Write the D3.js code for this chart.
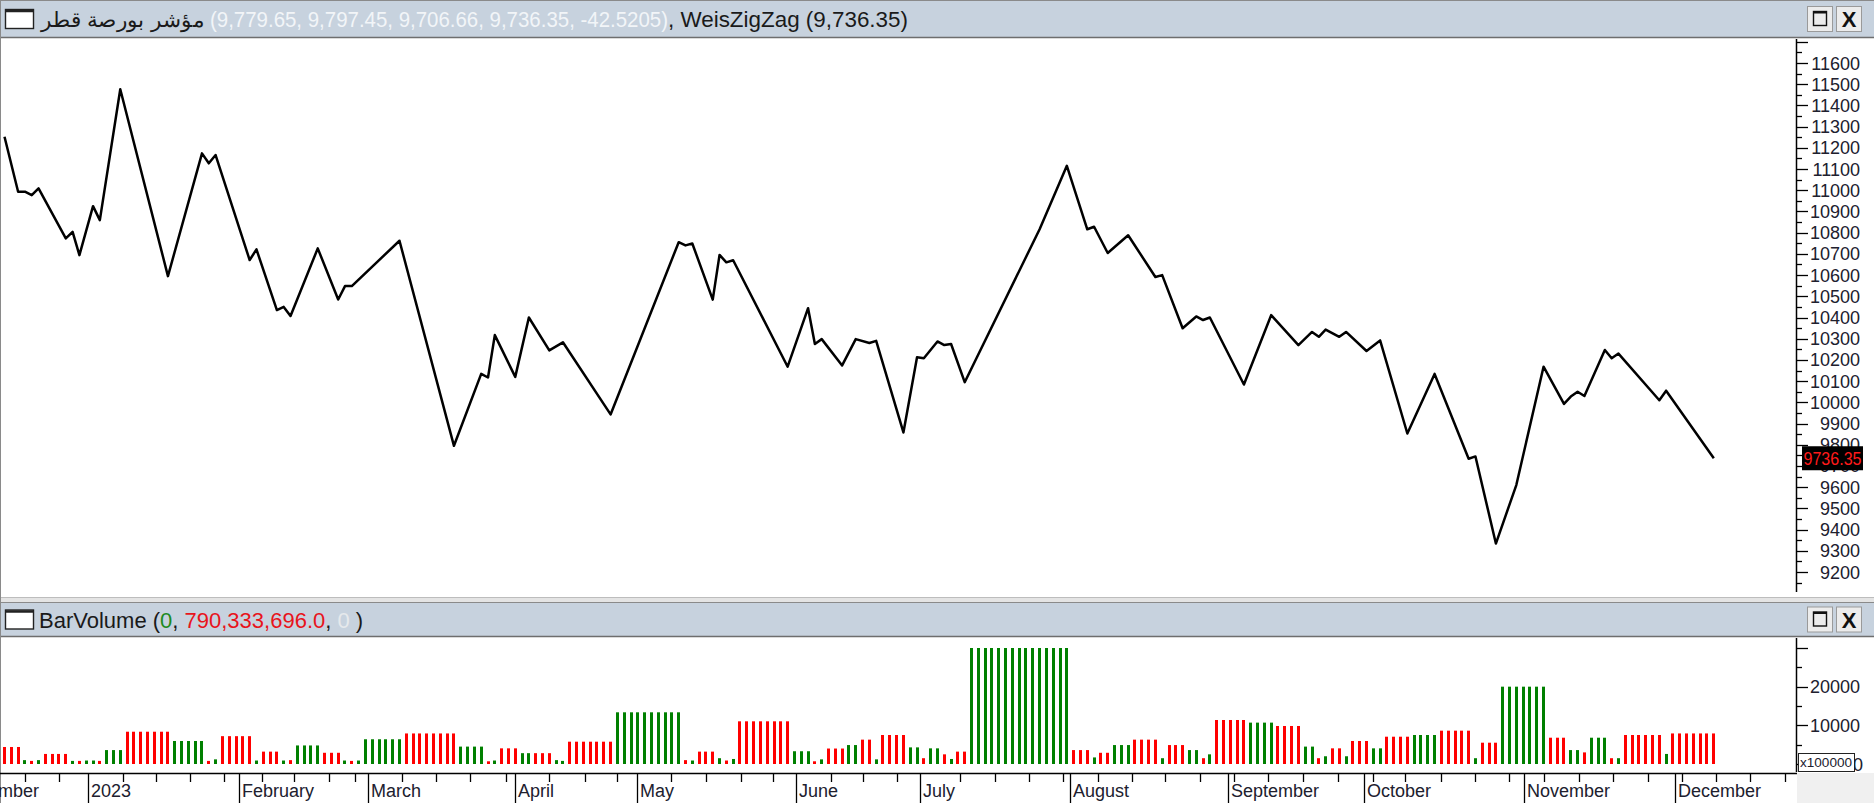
<!DOCTYPE html>
<html><head><meta charset="utf-8">
<script src="https://cdn.jsdelivr.net/npm/d3@7"></script>
<style>
html,body{margin:0;padding:0;background:#fff;overflow:hidden}
svg{display:block}
text{font-family:"Liberation Sans",Arial,sans-serif}
</style></head>
<body>
<svg id="chart" width="1874" height="803"></svg>
<script>
// ---------------- DATA ----------------
// WeisZigZag vertices: bar index and value
const priceIdx = [0,2,3,4,5,9,10,11,13,14,17,24,29,30,31,36,37,40,41,42,46,49,50,51,58,66,70,71,72,75,77,80,82,89,99,100,101,104,105,106,107,115,118,119,120,123,125,127,128,132,134,135,137,138,139,141,152,156,159,160,162,165,169,170,173,175,176,177,182,186,190,192,193,194,196,197,200,202,206,210,215,216,219,222,226,229,230,231,232,235,236,237,243,244,251];
const priceVal = [11252,10993,10993,10977,11009,10773,10804,10694,10925,10859,11476,10595,11174,11127,11166,10671,10721,10435,10450,10407,10726,10485,10548,10548,10762,9795,10134,10117,10317,10120,10400,10245,10283,9943,10755,10740,10749,10484,10695,10660,10670,10168,10444,10275,10298,10174,10298,10280,10290,9858,10213,10208,10287,10270,10275,10095,10816,11115,10816,10828,10704,10788,10591,10600,10349,10405,10388,10400,10084,10411,10270,10332,10309,10343,10309,10332,10242,10292,9853,10134,9734,9745,9334,9610,10168,9993,10027,10050,10030,10247,10208,10230,10010,10055,9736.35];

// BarVolume per bar (x100000)
const volume = [
4400,4400,4400,1000,800,1000,2600,2600,2600,2600,
800,800,900,900,800,3600,3600,3600,8350,8350,
8350,8350,8350,8350,8350,5950,5950,5950,5950,5950,
800,1200,7200,7200,7200,7200,7200,900,3200,3200,
3200,900,1000,4800,4800,4800,4800,2900,2900,2900,
900,800,900,6400,6400,6400,6400,6400,6400,7900,
7900,7900,7900,7900,7900,7900,7900,4500,4500,4500,
4500,700,900,4050,4050,4050,2800,2800,2800,2800,
2800,1000,800,5770,5770,5770,5770,5770,5770,5770,
13370,13370,13370,13370,13370,13370,13370,13370,13370,13370,
1000,900,3200,3200,3200,1500,900,1300,11040,11040,
11040,11040,11040,11040,11040,11040,3300,3300,3300,700,
1200,4000,4000,4000,4900,4900,6300,6300,1200,7500,
7500,7500,7500,4300,4300,1500,4050,4050,2500,1300,
3200,3200,30000,30000,30000,30000,30000,30000,30000,30000,
30000,30000,30000,30000,30000,30000,30000,3600,3600,3600,
1700,2900,2900,4900,4900,4900,6300,6300,6300,6300,
1500,4900,4900,4900,3600,3600,1500,2500,11380,11380,
11380,11380,11380,10700,10700,10700,10700,9830,9830,9830,
9830,4500,4500,1500,2000,4050,4050,2000,5950,5950,
5950,4050,4050,7060,7060,7060,7060,7500,7500,7500,
7500,8620,8620,8620,8620,8620,1500,5510,5510,5510,
20000,20000,20000,20000,20000,20000,20000,6800,6800,6800,
3600,3600,3000,6800,6800,6800,1500,1500,7500,7500,
7500,7500,7500,7500,2600,7903,7903,7903,7903,7903,
7903,7903];
// wave direction per bar: "g" = up wave, "r" = down wave
const volColor = [
"r","r","r","g","r","g","r","r","r","r",
"g","r","g","g","r","g","g","g","r","r",
"r","r","r","r","r","g","g","g","g","g",
"r","g","r","r","r","r","r","g","r","r",
"r","g","r","g","g","g","g","r","r","r",
"g","r","g","g","g","g","g","g","g","r",
"r","r","r","r","r","r","r","g","g","g",
"g","r","g","r","r","r","g","g","r","r",
"r","g","g","r","r","r","r","r","r","r",
"g","g","g","g","g","g","g","g","g","g",
"r","g","r","r","r","g","r","g","r","r",
"r","r","r","r","r","r","g","g","g","r",
"g","r","r","r","g","g","r","r","g","r",
"r","r","r","g","g","r","g","g","r","g",
"r","r","g","g","g","g","g","g","g","g",
"g","g","g","g","g","g","g","r","r","r",
"g","r","r","g","g","g","r","r","r","r",
"g","r","r","r","g","g","r","g","r","r",
"r","r","r","g","g","g","g","r","r","r",
"r","g","g","r","g","r","r","g","r","r",
"r","g","g","r","r","r","r","g","g","g",
"g","r","r","r","r","r","g","r","r","r",
"g","g","g","g","g","g","g","r","r","r",
"g","g","r","g","g","g","r","g","r","r",
"r","r","r","r","g","r","r","r","r","r",
"r","r"];

const monthLabels = ["December","2023","February","March","April","May","June","July","August","September","October","November","December"];
const monthIdx = [-7.6,12.3,34.4,53.4,74.9,92.9,116.2,134.4,156.4,179.7,199.7,223.2,245.3];
const weekIdx = [3.0,8.0,17.4,22.2,27.2,32.2,37.8,42.5,47.6,51.5,58.3,63.4,68.4,73.6,79.9,85.2,90.0,97.8,103.0,108.1,112.9,121.3,126.1,131.0,140.3,145.5,150.5,155.5,160.5,165.5,170.4,175.5,180.5,185.6,190.7,195.8,200.9,205.7,210.9,215.9,220.9,226.1,231.2,236.2,241.3,246.4,251.3,256.3,261.4];

const priceTicks = [9200,9300,9400,9500,9600,9700,9800,9900,10000,10100,10200,10300,10400,10500,10600,10700,10800,10900,11000,11100,11200,11300,11400,11500,11600];
const volTicks = [10000,20000];
const lastPrice = 9736.35;

const titleArabic = "مؤشر بورصة قطر";
const titleValues = "(9,779.65, 9,797.45, 9,706.66, 9,736.35, -42.5205)";
const titleIndicator = ", WeisZigZag (9,736.35)";

// ---------------- LAYOUT ----------------
const W = 1874, H = 803;
const axisX = 1796;
const P = {top: 38, bottom: 597};     // price panel
const V = {top: 637, bottom: 773};    // volume panel
const svg = d3.select("#chart");

const x = d3.scaleLinear().domain([-0.661, 263.07]).range([0, axisX]);
const yP = d3.scaleLinear().domain([9200, 11600]).range([572, 63]);
const yV = d3.scaleLinear().domain([0, 30000]).range([764, 648]);

const RED = "#ff0000", GREEN = "#008000";
const BAR = "#c7d2de";

svg.append("rect").attr("width", W).attr("height", H).attr("fill", "#ffffff");

// clip paths
const defs = svg.append("defs");
defs.append("clipPath").attr("id","clipP").append("rect").attr("x",0).attr("y",P.top).attr("width",axisX).attr("height",P.bottom-P.top);
defs.append("clipPath").attr("id","clipV").append("rect").attr("x",0).attr("y",V.top).attr("width",axisX).attr("height",V.bottom-V.top);
defs.append("clipPath").attr("id","clipX").append("rect").attr("x",0).attr("y",V.bottom).attr("width",axisX).attr("height",H-V.bottom);

// --------- title bars ----------
function titleBar(y0, y1, textFn){
  const g = svg.append("g");
  g.append("rect").attr("x",0).attr("y",y0).attr("width",W).attr("height",y1-y0).attr("fill",BAR);
  g.append("line").attr("x1",0).attr("x2",W).attr("y1",y0+0.5).attr("y2",y0+0.5).attr("stroke","#8a8a8a");
  g.append("line").attr("x1",0).attr("x2",W).attr("y1",y1-0.5).attr("y2",y1-0.5).attr("stroke","#6e6e6e").attr("stroke-width",1.5);
  const cy = (y0+y1)/2;
  g.append("rect").attr("x",5.5).attr("y",cy-9.5).attr("width",28).attr("height",19).attr("fill","#fff").attr("stroke","#222").attr("stroke-width",1.4);
  g.append("line").attr("x1",5.5).attr("x2",33.5).attr("y1",cy-8).attr("y2",cy-8).attr("stroke","#222").attr("stroke-width",2.5);
  [[1807,"box"],[1836,"x"]].forEach(([bx,kind])=>{
    g.append("rect").attr("x",bx+0.5).attr("y",cy-12.5).attr("width",25).attr("height",25).attr("fill","#ececec").attr("stroke","#9a9a9a");
    if(kind==="box"){
      g.append("rect").attr("x",bx+6.5).attr("y",cy-7.5).attr("width",13).attr("height",14).attr("fill","none").attr("stroke","#111").attr("stroke-width",1.4);
      g.append("line").attr("x1",bx+6.5).attr("x2",bx+19.5).attr("y1",cy-6.5).attr("y2",cy-6.5).attr("stroke","#111").attr("stroke-width",2);
    } else {
      g.append("text").attr("x",bx+13).attr("y",cy+8).attr("text-anchor","middle").attr("font-size",22).attr("font-weight","bold").attr("fill","#111").text("X");
    }
  });
  textFn(g, cy);
}

titleBar(0, 38, (g, cy)=>{
  g.append("text").attr("x",204).attr("y",cy+8).attr("font-size",21).attr("fill","#1a1a1a")
    .attr("font-family","'DejaVu Sans',sans-serif").attr("text-anchor","end")
    .attr("textLength",163).attr("lengthAdjust","spacingAndGlyphs").text(titleArabic);
  g.append("text").attr("x",210).attr("y",cy+8).attr("font-size",22).attr("fill","#f2f5f8")
    .attr("textLength",458).attr("lengthAdjust","spacingAndGlyphs").text(titleValues);
  g.append("text").attr("x",668).attr("y",cy+8).attr("font-size",22).attr("fill","#1a1a1a")
    .attr("textLength",240).attr("lengthAdjust","spacingAndGlyphs").text(titleIndicator);
});

// separator between panels
svg.append("rect").attr("x",0).attr("y",P.bottom).attr("width",W).attr("height",5).attr("fill","#e4e4e4");
svg.append("line").attr("x1",0).attr("x2",W).attr("y1",P.bottom+0.5).attr("y2",P.bottom+0.5).attr("stroke","#bdbdbd");

titleBar(602, 637, (g, cy)=>{
  const t = g.append("text").attr("x",39).attr("y",cy+8).attr("font-size",22).attr("fill","#1a1a1a");
  t.append("tspan").text("BarVolume (");
  t.append("tspan").attr("fill","#1e8a1e").text("0");
  t.append("tspan").text(", ");
  t.append("tspan").attr("fill","#e8141c").text("790,333,696.0");
  t.append("tspan").text(", ");
  t.append("tspan").attr("fill","#e6e9ec").text("0");
  t.append("tspan").text(" )");
});

// left frame line
svg.append("line").attr("x1",0.5).attr("x2",0.5).attr("y1",0).attr("y2",H).attr("stroke","#8a8a8a");

// ---------------- PRICE PANEL ----------------
const priceData = priceIdx.map((d,k)=>({i:d, v:priceVal[k]}));
svg.append("path").datum(priceData)
  .attr("clip-path","url(#clipP)")
  .attr("fill","none").attr("stroke","#000").attr("stroke-width",2.5).attr("stroke-linejoin","round")
  .attr("d", d3.line().x(d=>x(d.i)).y(d=>yP(d.v)));

const pAxis = svg.append("g");
pAxis.append("line").attr("x1",axisX+0.5).attr("x2",axisX+0.5).attr("y1",P.top+1).attr("y2",592).attr("stroke","#000").attr("stroke-width",1.5);
const minorP = d3.range(9100, 11751, 50);
pAxis.selectAll("line.tk").data(minorP).join("line").attr("class","tk")
  .attr("x1",axisX).attr("x2",d=> d%100===0 ? axisX+12 : axisX+6)
  .attr("y1",d=>Math.round(yP(d))+0.5).attr("y2",d=>Math.round(yP(d))+0.5)
  .attr("stroke","#000").attr("stroke-width",1.3)
  .style("display", d=> (yP(d)<P.top+1||yP(d)>593)?"none":null);
pAxis.selectAll("text").data(priceTicks).join("text")
  .attr("x",1860).attr("y",d=>yP(d)+6.5).attr("text-anchor","end")
  .attr("font-size",18).attr("fill","#20202e").text(d=>d);
const lp = pAxis.append("g");
lp.append("rect").attr("x",1802).attr("y",yP(lastPrice)-12).attr("width",61).attr("height",24).attr("fill","#000");
lp.append("text").attr("x",1832.5).attr("y",yP(lastPrice)+6.5).attr("text-anchor","middle")
  .attr("font-size",18).attr("fill","#ff1a1a").attr("textLength",58).attr("lengthAdjust","spacingAndGlyphs").text(lastPrice.toFixed(2));

// ---------------- VOLUME PANEL ----------------
const volData = volume.map((v,i)=>({i, v, c: volColor[i]}));
svg.append("g").attr("clip-path","url(#clipV)")
  .selectAll("rect").data(volData).join("rect")
  .attr("x", d=>Math.round(x(d.i)-1.5))
  .attr("width", 3)
  .attr("y", d=>yV(d.v))
  .attr("height", d=>yV(0)-yV(d.v))
  .attr("fill", d=> d.c==="g" ? GREEN : RED);

const vAxis = svg.append("g");
vAxis.append("line").attr("x1",axisX+0.5).attr("x2",axisX+0.5).attr("y1",V.top+1).attr("y2",V.bottom-1).attr("stroke","#000").attr("stroke-width",1.5);
const minorV = d3.range(0, 30001, 5000);
vAxis.selectAll("line.tk").data(minorV).join("line").attr("class","tk")
  .attr("x1",axisX).attr("x2",d=> d%10000===0 ? axisX+12 : axisX+6)
  .attr("y1",d=>Math.round(yV(d))+0.5).attr("y2",d=>Math.round(yV(d))+0.5)
  .attr("stroke","#000").attr("stroke-width",1.3);
vAxis.selectAll("text.lb").data(volTicks).join("text").attr("class","lb")
  .attr("x",1860).attr("y",d=>yV(d)+6.5).attr("text-anchor","end")
  .attr("font-size",18).attr("fill","#20202e").text(d=>d);
vAxis.append("text").attr("x",1853).attr("y",yV(0)+7).attr("font-size",18).attr("fill","#20202e").text("0");
vAxis.append("rect").attr("x",1798.5).attr("y",753.5).attr("width",56).attr("height",18).attr("fill","#fff").attr("stroke","#222");
vAxis.append("text").attr("x",1800).attr("y",767).attr("font-size",13).attr("fill","#20202e").attr("textLength",52).attr("lengthAdjust","spacingAndGlyphs").text("x100000");

// ---------------- X AXIS ----------------
svg.append("rect").attr("x",axisX+1).attr("y",V.bottom).attr("width",W-axisX-1).attr("height",H-V.bottom).attr("fill","#f0f0f0");
svg.append("line").attr("x1",0).attr("x2",axisX+1).attr("y1",V.bottom+0.5).attr("y2",V.bottom+0.5).attr("stroke","#000").attr("stroke-width",1.5);
const xg = svg.append("g").attr("clip-path","url(#clipX)");
xg.selectAll("line.wk").data(weekIdx).join("line").attr("class","wk")
  .attr("x1",d=>Math.round(x(d))+0.5).attr("x2",d=>Math.round(x(d))+0.5)
  .attr("y1",V.bottom).attr("y2",V.bottom+9).attr("stroke","#000").attr("stroke-width",1.3);
xg.selectAll("line.mo").data(monthIdx).join("line").attr("class","mo")
  .attr("x1",d=>Math.round(x(d))+0.5).attr("x2",d=>Math.round(x(d))+0.5)
  .attr("y1",V.bottom).attr("y2",H).attr("stroke","#000").attr("stroke-width",1.3);
xg.selectAll("text").data(monthLabels).join("text")
  .attr("x",(d,k)=>Math.round(x(monthIdx[k]))+3).attr("y",797)
  .attr("font-size",18).attr("fill","#20202e").text(d=>d);
</script>
</body></html>
